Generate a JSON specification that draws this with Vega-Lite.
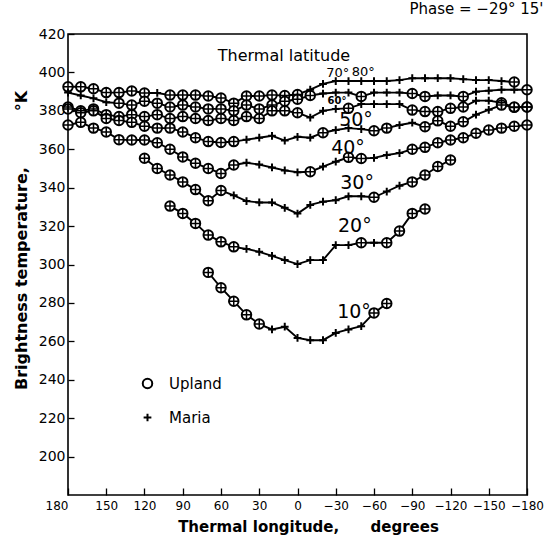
{
  "$schema": "https://vega.github.io/schema/vega-lite/v6.json",
  "width": 459,
  "height": 461,
  "autosize": {"type": "none"},
  "padding": {"left": 68, "top": 34, "right": 19, "bottom": 43},
  "background": "white",
  "config": {"view": {"stroke": "black", "strokeWidth": 1.6}, "font": "DejaVu Sans"},
  "title": {"text": "Phase = \u221229\u00b0 15'", "anchor": "end", "fontSize": 15, "fontWeight": "normal", "font": "DejaVu Sans", "color": "black", "offset": 10, "dx": 0},
  "datasets": {
    "curves": [
      {"lat":80,"lon":180,"t":392.5,"k":"Upland"},{"lat":80,"lon":170,"t":392.5,"k":"Upland"},{"lat":80,"lon":160,"t":391.5,"k":"Upland"},{"lat":80,"lon":150,"t":389.5,"k":"Upland"},{"lat":80,"lon":140,"t":389.5,"k":"Upland"},{"lat":80,"lon":130,"t":390.3,"k":"Upland"},{"lat":80,"lon":120,"t":389.3,"k":"Upland"},{"lat":80,"lon":110,"t":389.3,"k":"Maria"},{"lat":80,"lon":100,"t":388.2,"k":"Upland"},{"lat":80,"lon":90,"t":388.2,"k":"Upland"},{"lat":80,"lon":80,"t":388.2,"k":"Upland"},{"lat":80,"lon":70,"t":387.7,"k":"Upland"},{"lat":80,"lon":60,"t":386.7,"k":"Upland"},{"lat":80,"lon":50,"t":384,"k":"Upland"},{"lat":80,"lon":40,"t":387.7,"k":"Upland"},{"lat":80,"lon":30,"t":387.7,"k":"Upland"},{"lat":80,"lon":20,"t":388.2,"k":"Upland"},{"lat":80,"lon":10,"t":388,"k":"Upland"},{"lat":80,"lon":0,"t":388.5,"k":"Upland"},{"lat":80,"lon":-10,"t":391,"k":"Maria"},{"lat":80,"lon":-20,"t":394,"k":"Maria"},{"lat":80,"lon":-30,"t":395.5,"k":"Maria"},{"lat":80,"lon":-40,"t":395.5,"k":"Maria"},{"lat":80,"lon":-50,"t":395.5,"k":"Maria"},{"lat":80,"lon":-60,"t":395.5,"k":"Maria"},{"lat":80,"lon":-70,"t":395.5,"k":"Maria"},{"lat":80,"lon":-80,"t":396,"k":"Maria"},{"lat":80,"lon":-90,"t":397,"k":"Maria"},{"lat":80,"lon":-100,"t":397,"k":"Maria"},{"lat":80,"lon":-110,"t":397,"k":"Maria"},{"lat":80,"lon":-120,"t":397,"k":"Maria"},{"lat":80,"lon":-130,"t":396.5,"k":"Maria"},{"lat":80,"lon":-140,"t":396,"k":"Maria"},{"lat":80,"lon":-150,"t":396,"k":"Maria"},{"lat":80,"lon":-160,"t":395.5,"k":"Maria"},{"lat":80,"lon":-170,"t":395,"k":"Upland"},

      {"lat":70,"lon":180,"t":389.5,"k":"Maria"},{"lat":70,"lon":170,"t":388,"k":"Maria"},{"lat":70,"lon":160,"t":386.5,"k":"Maria"},{"lat":70,"lon":150,"t":384.5,"k":"Maria"},{"lat":70,"lon":140,"t":384,"k":"Upland"},{"lat":70,"lon":130,"t":383,"k":"Upland"},{"lat":70,"lon":120,"t":385,"k":"Upland"},{"lat":70,"lon":110,"t":384,"k":"Upland"},{"lat":70,"lon":100,"t":382,"k":"Upland"},{"lat":70,"lon":90,"t":383,"k":"Upland"},{"lat":70,"lon":80,"t":382,"k":"Upland"},{"lat":70,"lon":70,"t":381,"k":"Upland"},{"lat":70,"lon":60,"t":381,"k":"Upland"},{"lat":70,"lon":50,"t":380,"k":"Upland"},{"lat":70,"lon":40,"t":383,"k":"Upland"},{"lat":70,"lon":30,"t":381,"k":"Upland"},{"lat":70,"lon":20,"t":383,"k":"Upland"},{"lat":70,"lon":10,"t":385,"k":"Upland"},{"lat":70,"lon":0,"t":386,"k":"Upland"},{"lat":70,"lon":-10,"t":388,"k":"Upland"},{"lat":70,"lon":-20,"t":389,"k":"Maria"},{"lat":70,"lon":-30,"t":389.5,"k":"Maria"},{"lat":70,"lon":-40,"t":389.5,"k":"Maria"},{"lat":70,"lon":-50,"t":387.5,"k":"Upland"},{"lat":70,"lon":-60,"t":389.5,"k":"Maria"},{"lat":70,"lon":-70,"t":389.5,"k":"Maria"},{"lat":70,"lon":-80,"t":389.5,"k":"Maria"},{"lat":70,"lon":-90,"t":389,"k":"Upland"},{"lat":70,"lon":-100,"t":387.5,"k":"Upland"},{"lat":70,"lon":-110,"t":388,"k":"Maria"},{"lat":70,"lon":-120,"t":388,"k":"Maria"},{"lat":70,"lon":-130,"t":387.5,"k":"Upland"},{"lat":70,"lon":-140,"t":390,"k":"Maria"},{"lat":70,"lon":-150,"t":390.5,"k":"Maria"},{"lat":70,"lon":-160,"t":391,"k":"Maria"},{"lat":70,"lon":-170,"t":391,"k":"Maria"},{"lat":70,"lon":-180,"t":391,"k":"Upland"},

      {"lat":60,"lon":180,"t":382,"k":"Upland"},{"lat":60,"lon":170,"t":380,"k":"Upland"},{"lat":60,"lon":160,"t":381,"k":"Upland"},{"lat":60,"lon":150,"t":378,"k":"Upland"},{"lat":60,"lon":140,"t":377,"k":"Upland"},{"lat":60,"lon":130,"t":378,"k":"Upland"},{"lat":60,"lon":120,"t":377,"k":"Upland"},{"lat":60,"lon":110,"t":378,"k":"Upland"},{"lat":60,"lon":100,"t":376,"k":"Upland"},{"lat":60,"lon":90,"t":377,"k":"Upland"},{"lat":60,"lon":80,"t":376,"k":"Upland"},{"lat":60,"lon":70,"t":375,"k":"Upland"},{"lat":60,"lon":60,"t":376,"k":"Upland"},{"lat":60,"lon":50,"t":375,"k":"Upland"},{"lat":60,"lon":40,"t":377,"k":"Upland"},{"lat":60,"lon":30,"t":376,"k":"Upland"},{"lat":60,"lon":20,"t":380,"k":"Upland"},{"lat":60,"lon":10,"t":380,"k":"Upland"},{"lat":60,"lon":0,"t":379,"k":"Upland"},{"lat":60,"lon":-10,"t":376.5,"k":"Maria"},{"lat":60,"lon":-20,"t":380,"k":"Maria"},{"lat":60,"lon":-30,"t":381,"k":"Maria"},{"lat":60,"lon":-40,"t":381.3,"k":"Upland"},{"lat":60,"lon":-50,"t":383.5,"k":"Maria"},{"lat":60,"lon":-60,"t":383.5,"k":"Maria"},{"lat":60,"lon":-70,"t":383.5,"k":"Maria"},{"lat":60,"lon":-80,"t":383.5,"k":"Maria"},{"lat":60,"lon":-90,"t":380.4,"k":"Upland"},{"lat":60,"lon":-100,"t":379.6,"k":"Upland"},{"lat":60,"lon":-110,"t":379.6,"k":"Upland"},{"lat":60,"lon":-120,"t":381.3,"k":"Upland"},{"lat":60,"lon":-130,"t":382,"k":"Upland"},{"lat":60,"lon":-140,"t":385.3,"k":"Maria"},{"lat":60,"lon":-150,"t":385.3,"k":"Maria"},{"lat":60,"lon":-160,"t":384.2,"k":"Upland"},{"lat":60,"lon":-170,"t":381.8,"k":"Upland"},{"lat":60,"lon":-180,"t":382,"k":"Upland"},

      {"lat":50,"lon":180,"t":381,"k":"Upland"},{"lat":50,"lon":170,"t":379,"k":"Upland"},{"lat":50,"lon":160,"t":380,"k":"Upland"},{"lat":50,"lon":150,"t":376,"k":"Upland"},{"lat":50,"lon":140,"t":375,"k":"Upland"},{"lat":50,"lon":130,"t":374,"k":"Upland"},{"lat":50,"lon":120,"t":372,"k":"Upland"},{"lat":50,"lon":110,"t":371,"k":"Upland"},{"lat":50,"lon":100,"t":371,"k":"Upland"},{"lat":50,"lon":90,"t":369,"k":"Upland"},{"lat":50,"lon":80,"t":366,"k":"Upland"},{"lat":50,"lon":70,"t":364,"k":"Upland"},{"lat":50,"lon":60,"t":363.5,"k":"Upland"},{"lat":50,"lon":50,"t":364,"k":"Upland"},{"lat":50,"lon":40,"t":365,"k":"Maria"},{"lat":50,"lon":30,"t":366,"k":"Maria"},{"lat":50,"lon":20,"t":367,"k":"Maria"},{"lat":50,"lon":10,"t":364.5,"k":"Maria"},{"lat":50,"lon":0,"t":366.5,"k":"Maria"},{"lat":50,"lon":-10,"t":366,"k":"Maria"},{"lat":50,"lon":-20,"t":368.6,"k":"Upland"},{"lat":50,"lon":-30,"t":370,"k":"Maria"},{"lat":50,"lon":-40,"t":371,"k":"Maria"},{"lat":50,"lon":-50,"t":370.5,"k":"Maria"},{"lat":50,"lon":-60,"t":369.6,"k":"Upland"},{"lat":50,"lon":-70,"t":371,"k":"Upland"},{"lat":50,"lon":-80,"t":372.6,"k":"Maria"},{"lat":50,"lon":-90,"t":373.8,"k":"Maria"},{"lat":50,"lon":-100,"t":371.7,"k":"Upland"},{"lat":50,"lon":-110,"t":374.8,"k":"Upland"},{"lat":50,"lon":-120,"t":372,"k":"Upland"},{"lat":50,"lon":-130,"t":374.3,"k":"Upland"},{"lat":50,"lon":-140,"t":378,"k":"Maria"},{"lat":50,"lon":-150,"t":380.5,"k":"Maria"},{"lat":50,"lon":-160,"t":383,"k":"Upland"},{"lat":50,"lon":-170,"t":382,"k":"Upland"},{"lat":50,"lon":-180,"t":382,"k":"Upland"},

      {"lat":40,"lon":180,"t":372.6,"k":"Upland"},{"lat":40,"lon":170,"t":374,"k":"Upland"},{"lat":40,"lon":160,"t":371,"k":"Upland"},{"lat":40,"lon":150,"t":369,"k":"Upland"},{"lat":40,"lon":140,"t":365,"k":"Upland"},{"lat":40,"lon":130,"t":364.8,"k":"Upland"},{"lat":40,"lon":120,"t":364.8,"k":"Upland"},{"lat":40,"lon":110,"t":363.4,"k":"Upland"},{"lat":40,"lon":100,"t":360,"k":"Upland"},{"lat":40,"lon":90,"t":356,"k":"Upland"},{"lat":40,"lon":80,"t":352.7,"k":"Upland"},{"lat":40,"lon":70,"t":350,"k":"Upland"},{"lat":40,"lon":60,"t":347.4,"k":"Upland"},{"lat":40,"lon":50,"t":351.8,"k":"Upland"},{"lat":40,"lon":40,"t":353,"k":"Maria"},{"lat":40,"lon":30,"t":352,"k":"Maria"},{"lat":40,"lon":20,"t":350.5,"k":"Maria"},{"lat":40,"lon":10,"t":349,"k":"Maria"},{"lat":40,"lon":0,"t":348,"k":"Maria"},{"lat":40,"lon":-10,"t":348.3,"k":"Upland"},{"lat":40,"lon":-20,"t":351,"k":"Maria"},{"lat":40,"lon":-30,"t":353.5,"k":"Maria"},{"lat":40,"lon":-40,"t":355.8,"k":"Upland"},{"lat":40,"lon":-50,"t":355.2,"k":"Upland"},{"lat":40,"lon":-60,"t":355.5,"k":"Maria"},{"lat":40,"lon":-70,"t":357,"k":"Maria"},{"lat":40,"lon":-80,"t":358,"k":"Maria"},{"lat":40,"lon":-90,"t":360,"k":"Upland"},{"lat":40,"lon":-100,"t":361,"k":"Upland"},{"lat":40,"lon":-110,"t":363.4,"k":"Upland"},{"lat":40,"lon":-120,"t":364.8,"k":"Upland"},{"lat":40,"lon":-130,"t":366,"k":"Upland"},{"lat":40,"lon":-140,"t":368.3,"k":"Upland"},{"lat":40,"lon":-150,"t":370,"k":"Upland"},{"lat":40,"lon":-160,"t":371,"k":"Upland"},{"lat":40,"lon":-170,"t":372,"k":"Upland"},{"lat":40,"lon":-180,"t":372.6,"k":"Upland"},

      {"lat":30,"lon":120,"t":355.3,"k":"Upland"},{"lat":30,"lon":110,"t":350,"k":"Upland"},{"lat":30,"lon":100,"t":346.6,"k":"Upland"},{"lat":30,"lon":90,"t":343,"k":"Upland"},{"lat":30,"lon":80,"t":339,"k":"Upland"},{"lat":30,"lon":70,"t":333.2,"k":"Upland"},{"lat":30,"lon":60,"t":338.5,"k":"Upland"},{"lat":30,"lon":50,"t":336,"k":"Maria"},{"lat":30,"lon":40,"t":333,"k":"Maria"},{"lat":30,"lon":30,"t":332.3,"k":"Maria"},{"lat":30,"lon":20,"t":332.3,"k":"Maria"},{"lat":30,"lon":10,"t":329.5,"k":"Maria"},{"lat":30,"lon":0,"t":326.5,"k":"Maria"},{"lat":30,"lon":-10,"t":331,"k":"Maria"},{"lat":30,"lon":-20,"t":332.7,"k":"Maria"},{"lat":30,"lon":-30,"t":333.5,"k":"Maria"},{"lat":30,"lon":-40,"t":335.5,"k":"Maria"},{"lat":30,"lon":-50,"t":335.5,"k":"Maria"},{"lat":30,"lon":-60,"t":335,"k":"Upland"},{"lat":30,"lon":-70,"t":338,"k":"Maria"},{"lat":30,"lon":-80,"t":341,"k":"Maria"},{"lat":30,"lon":-90,"t":343,"k":"Upland"},{"lat":30,"lon":-100,"t":346.6,"k":"Upland"},{"lat":30,"lon":-110,"t":351,"k":"Upland"},{"lat":30,"lon":-120,"t":354.4,"k":"Upland"},

      {"lat":20,"lon":100,"t":330.4,"k":"Upland"},{"lat":20,"lon":90,"t":326.6,"k":"Upland"},{"lat":20,"lon":80,"t":321.4,"k":"Upland"},{"lat":20,"lon":70,"t":315.3,"k":"Upland"},{"lat":20,"lon":60,"t":311.8,"k":"Upland"},{"lat":20,"lon":50,"t":309.2,"k":"Upland"},{"lat":20,"lon":40,"t":308.1,"k":"Maria"},{"lat":20,"lon":30,"t":306.6,"k":"Maria"},{"lat":20,"lon":20,"t":304.5,"k":"Maria"},{"lat":20,"lon":10,"t":302.3,"k":"Maria"},{"lat":20,"lon":0,"t":300.2,"k":"Maria"},{"lat":20,"lon":-10,"t":302.3,"k":"Maria"},{"lat":20,"lon":-20,"t":302.3,"k":"Maria"},{"lat":20,"lon":-30,"t":310.1,"k":"Maria"},{"lat":20,"lon":-40,"t":310.1,"k":"Maria"},{"lat":20,"lon":-50,"t":311.3,"k":"Upland"},{"lat":20,"lon":-60,"t":311.3,"k":"Maria"},{"lat":20,"lon":-70,"t":311.3,"k":"Upland"},{"lat":20,"lon":-80,"t":317.4,"k":"Upland"},{"lat":20,"lon":-90,"t":326.6,"k":"Upland"},{"lat":20,"lon":-100,"t":328.9,"k":"Upland"},

      {"lat":10,"lon":70,"t":295.9,"k":"Upland"},{"lat":10,"lon":60,"t":287.9,"k":"Upland"},{"lat":10,"lon":50,"t":280.9,"k":"Upland"},{"lat":10,"lon":40,"t":273.8,"k":"Upland"},{"lat":10,"lon":30,"t":269,"k":"Upland"},{"lat":10,"lon":20,"t":266.2,"k":"Maria"},{"lat":10,"lon":10,"t":267.6,"k":"Maria"},{"lat":10,"lon":0,"t":261.8,"k":"Maria"},{"lat":10,"lon":-10,"t":260.6,"k":"Maria"},{"lat":10,"lon":-20,"t":260.6,"k":"Maria"},{"lat":10,"lon":-30,"t":264.4,"k":"Maria"},{"lat":10,"lon":-40,"t":266.2,"k":"Maria"},{"lat":10,"lon":-50,"t":267.9,"k":"Maria"},{"lat":10,"lon":-60,"t":274.8,"k":"Upland"},{"lat":10,"lon":-70,"t":279.7,"k":"Upland"}
    ],
    "bigLabels": [
      {"lon": -45.9, "t": 375.2, "s": "50\u00b0"},
      {"lon": -39.6, "t": 360.6, "s": "40\u00b0"},
      {"lon": -46.7, "t": 342.4, "s": "30\u00b0"},
      {"lon": -45, "t": 320, "s": "20\u00b0"},
      {"lon": -44.3, "t": 275.2, "s": "10\u00b0"}
    ],
    "midLabels": [
      {"lon": -31.5, "t": 399.6, "s": "70\u00b0"},
      {"lon": -51.5, "t": 400, "s": "80\u00b0"}
    ],
    "smallLabels": [
      {"lon": -31, "t": 385.1, "s": "60\u00b0"}
    ],
    "heading": [
      {"lon": 10.6, "t": 408.3, "s": "Thermal latitude"}
    ]
  },
  "encoding": {
    "x": {
      "field": "lon", "type": "quantitative",
      "scale": {"domain": [180, -180], "nice": false, "zero": false},
      "axis": {
        "values": [180, 150, 120, 90, 60, 30, 0, -30, -60, -90, -120, -150, -180],
        "title": "Thermal longitude,\u00a0\u00a0\u00a0\u00a0\u00a0\u00a0degrees",
        "titleFont": "DejaVu Sans", "titleFontSize": 15, "titleFontWeight": "bold", "titleColor": "black", "titlePadding": 8, "titleX": 240,
        "labelFont": "DejaVu Sans", "labelFontSize": 12, "labelColor": "black",
        "labelAlign": {"condition": {"test": "datum.value == 180", "value": "right"}, "value": "center"},
        "tickSize": -7, "tickColor": "black", "tickWidth": 1.3, "labelPadding": 12,
        "domain": false, "grid": false, "labelFlush": false, "labelOverlap": false
      }
    },
    "y": {
      "field": "t", "type": "quantitative",
      "scale": {"domain": [180, 420], "nice": false, "zero": false},
      "axis": {
        "values": [200, 220, 240, 260, 280, 300, 320, 340, 360, 380, 400, 420],
        "title": "Brightness temperature,\u00a0\u00a0\u00a0\u00a0\u00a0\u00a0\u00a0\u00a0\u00a0\u00a0\u00b0K",
        "titleFont": "DejaVu Sans", "titleFontSize": 16, "titleFontWeight": "bold", "titleColor": "black",
        "titlePadding": 9, "titleY": 206,
        "labelFont": "DejaVu Sans", "labelFontSize": 14, "labelColor": "black",
        "tickSize": -6, "tickColor": "black", "tickWidth": 1.3, "labelPadding": 9,
        "domain": false, "grid": false, "labelFlush": false, "labelOverlap": false
      }
    }
  },
  "layer": [
    {
      "data": {"name": "curves"},
      "mark": {"type": "line", "color": "black", "strokeWidth": 1.9},
      "encoding": {"detail": {"field": "lat", "type": "nominal"}}
    },
    {
      "data": {"name": "curves"},
      "mark": {"type": "point", "stroke": "black", "strokeWidth": 2, "opacity": 1},
      "encoding": {
        "shape": {
          "field": "k", "type": "nominal",
          "scale": {"domain": ["Upland", "Maria"], "range": ["circle", "M-1,0H1M0,-1V1"]},
          "legend": {
            "orient": "none", "legendX": 72, "legendY": 342, "title": null,
            "labelFont": "DejaVu Sans", "labelFontSize": 15, "labelColor": "black",
            "labelOffset": 14, "rowPadding": 16, "symbolStrokeColor": "black", "symbolStrokeWidth": 2
          }
        },
        "fill": {
          "field": "k", "type": "nominal",
          "scale": {"domain": ["Upland", "Maria"], "range": ["white", "transparent"]}
        },
        "size": {
          "field": "k", "type": "nominal",
          "scale": {"domain": ["Upland", "Maria"], "range": [90, 60]}
        }
      }
    },
    {
      "data": {"name": "curves"},
      "transform": [{"filter": "datum.k == 'Upland'"}],
      "mark": {"type": "point", "shape": "M-1,0H1M0,-1V1", "size": 90, "stroke": "black", "strokeWidth": 1.5, "opacity": 1}
    },
    {
      "data": {"name": "bigLabels"},
      "mark": {"type": "text", "font": "DejaVu Sans", "fontSize": 19, "color": "black"},
      "encoding": {"text": {"field": "s"}}
    },
    {
      "data": {"name": "midLabels"},
      "mark": {"type": "text", "font": "DejaVu Sans", "fontSize": 13, "color": "black"},
      "encoding": {"text": {"field": "s"}}
    },
    {
      "data": {"name": "smallLabels"},
      "mark": {"type": "text", "font": "DejaVu Sans", "fontSize": 10, "fontWeight": "bold", "color": "black"},
      "encoding": {"text": {"field": "s"}}
    },
    {
      "data": {"name": "heading"},
      "mark": {"type": "text", "font": "DejaVu Sans", "fontSize": 16, "color": "black"},
      "encoding": {"text": {"field": "s"}}
    }
  ]
}
